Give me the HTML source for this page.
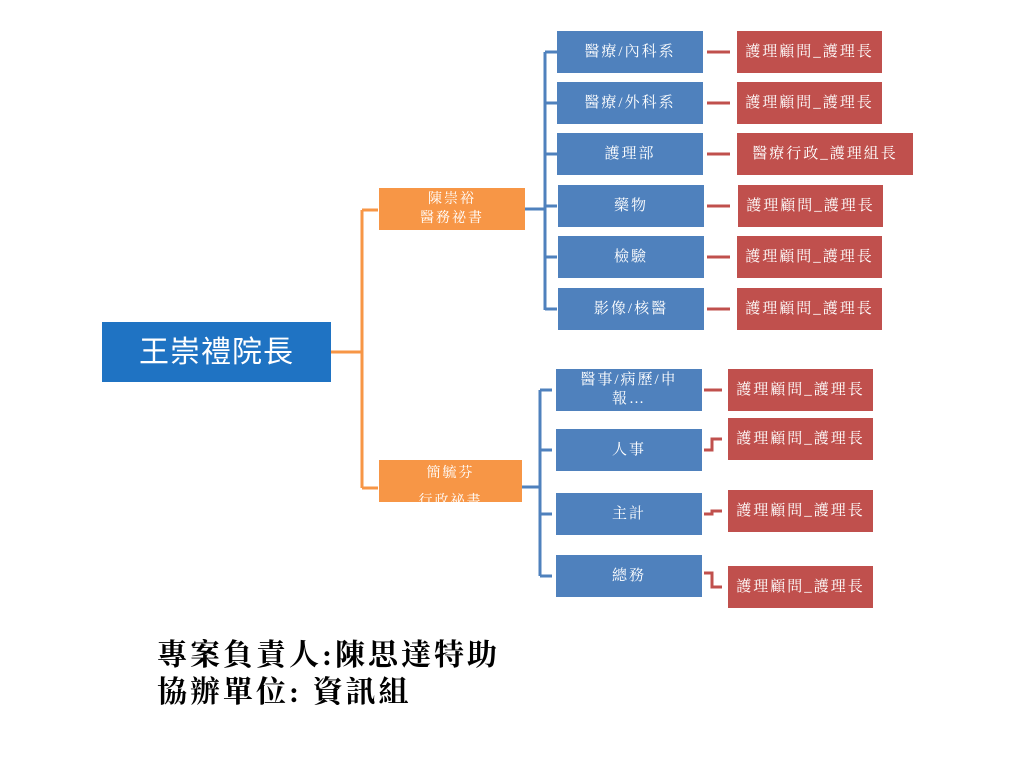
<!DOCTYPE html>
<html><head><meta charset="utf-8">
<style>
body{margin:0;width:1024px;height:768px;background:#fff;position:relative;overflow:hidden;font-family:"Liberation Serif","Noto Serif CJK SC",serif;}
.b{position:absolute;display:flex;align-items:center;justify-content:center;text-align:center;color:#fff;font-size:15px;letter-spacing:2px;line-height:19px;}
.bl{background:#4f81bd;}
.rd{background:#c0504d;}
.or{background:#f79646;font-size:14px;}
svg{position:absolute;left:0;top:0;}
.t{position:absolute;left:157px;font-weight:bold;font-size:30px;letter-spacing:3px;color:#000;white-space:nowrap;line-height:36px;}
</style></head><body>
<svg width="1024" height="768">
<g stroke="#f79646" stroke-width="3" fill="none">
<path d="M331 352H362M362 210V488M362 210H378M362 488H378"/>
</g>
<g stroke="#4f81bd" stroke-width="3" fill="none">
<path d="M525 209H545M545 52V310M545 52H557M545 103H557M545 154H557M545 206H557M545 257H557M545 309H557"/>
<path d="M522 487H540M540 390V576M540 390H552M540 450H552M540 514H552M540 576H552"/>
</g>
<g stroke="#c0504d" stroke-width="3" fill="none">
<path d="M707 52H730M707 103H730M707 154H730M707 206H730M707 257H730M707 309H730"/>
<path d="M704 390H722M704 450H712V439H722M704 514H712V511H722M704 573H712V587H722"/>
</g>
</svg>
<div class="b" style="left:102px;top:322px;width:229px;height:60px;background:#1f73c3;font-family:'Liberation Sans','Noto Sans CJK SC',sans-serif;font-size:30px;letter-spacing:1px;">王崇禮院長</div>
<div class="b or" style="left:379px;top:188px;width:146px;height:42px;">陳崇裕<br>醫務祕書</div>
<div class="b or" style="left:379px;top:466px;width:143px;height:42px;align-items:flex-start;line-height:28px;margin-top:-6px;">簡毓芬<br>行政祕書</div>

<div class="b bl" style="left:557px;top:31px;width:146px;height:42px;">醫療/內科系</div>
<div class="b bl" style="left:557px;top:82px;width:146px;height:42px;">醫療/外科系</div>
<div class="b bl" style="left:557px;top:133px;width:146px;height:42px;">護理部</div>
<div class="b bl" style="left:558px;top:185px;width:146px;height:42px;">藥物</div>
<div class="b bl" style="left:558px;top:236px;width:146px;height:42px;">檢驗</div>
<div class="b bl" style="left:558px;top:288px;width:146px;height:42px;">影像/核醫</div>

<div class="b rd" style="left:737px;top:31px;width:145px;height:42px;">護理顧問_護理長</div>
<div class="b rd" style="left:737px;top:82px;width:145px;height:42px;">護理顧問_護理長</div>
<div class="b rd" style="left:737px;top:133px;width:176px;height:42px;">醫療行政_護理組長</div>
<div class="b rd" style="left:738px;top:185px;width:145px;height:42px;">護理顧問_護理長</div>
<div class="b rd" style="left:737px;top:236px;width:145px;height:42px;">護理顧問_護理長</div>
<div class="b rd" style="left:737px;top:288px;width:145px;height:42px;">護理顧問_護理長</div>

<div class="b bl" style="left:556px;top:369px;width:146px;height:42px;">醫事/病歷/申<br>報…</div>
<div class="b bl" style="left:556px;top:429px;width:146px;height:42px;">人事</div>
<div class="b bl" style="left:556px;top:493px;width:146px;height:42px;">主計</div>
<div class="b bl" style="left:556px;top:555px;width:146px;height:42px;">總務</div>

<div class="b rd" style="left:728px;top:369px;width:145px;height:42px;">護理顧問_護理長</div>
<div class="b rd" style="left:728px;top:418px;width:145px;height:42px;">護理顧問_護理長</div>
<div class="b rd" style="left:728px;top:490px;width:145px;height:42px;">護理顧問_護理長</div>
<div class="b rd" style="left:728px;top:566px;width:145px;height:42px;">護理顧問_護理長</div>

<div class="t" style="top:638px;">專案負責人:陳思達特助</div>
<div class="t" style="top:675px;">協辦單位: 資訊組</div>
</body></html>
